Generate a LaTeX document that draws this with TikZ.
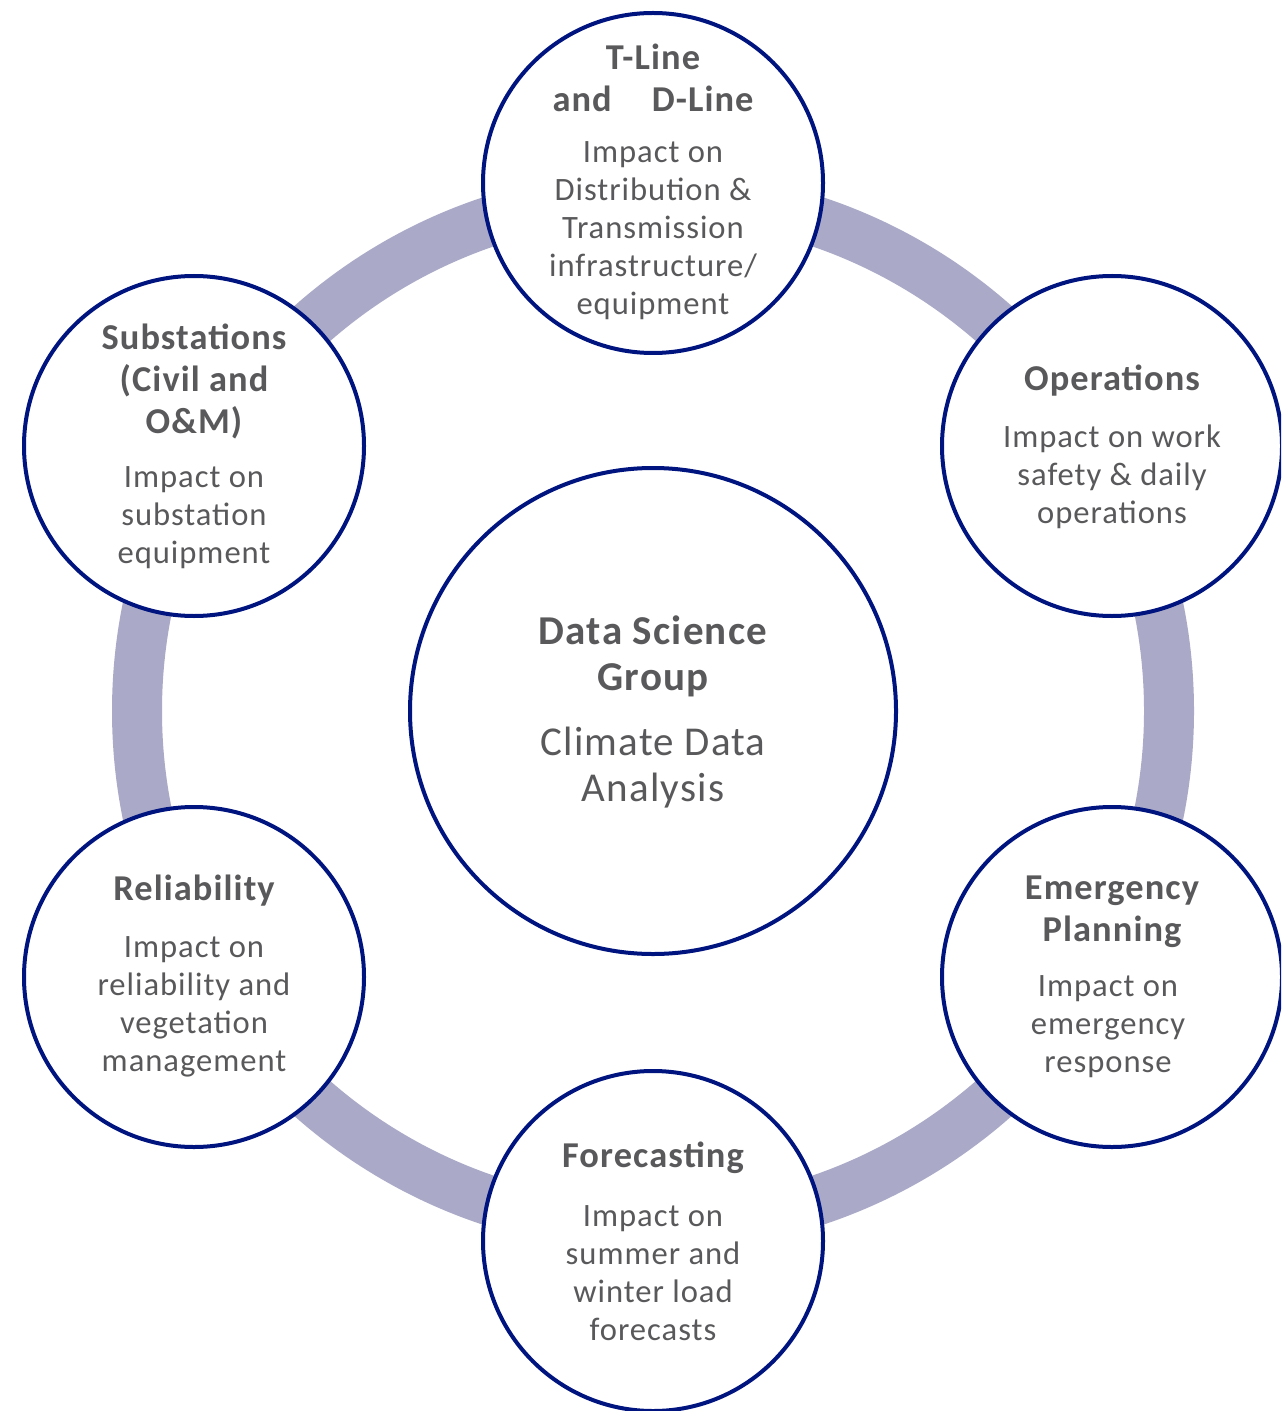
\documentclass[tikz,border=0pt]{standalone}
\usepackage{fontspec}
\setmainfont{Carlito}[LetterSpace=3]
\definecolor{ringc}{RGB}{170,170,200}
\definecolor{navy}{RGB}{0,20,128}
\definecolor{txt}{RGB}{89,89,91}
\begin{document}
\begin{tikzpicture}[x=0.5pt,y=-0.5pt,
  sat/.style={circle,draw=navy,line width=2pt,fill=white,minimum size=340pt/2,inner sep=0pt},
  hub/.style={circle,draw=navy,line width=2pt,fill=white,minimum size=486pt/2,inner sep=0pt},
  ttl/.style={align=center,text=txt,font=\fontsize{18.2}{21}\selectfont\bfseries,inner sep=0pt},
  bdy/.style={align=center,text=txt,font=\fontsize{16.3}{19}\selectfont,inner sep=0pt},
  hubttl/.style={align=center,text=txt,font=\fontsize{20.5}{23}\selectfont\bfseries,inner sep=0pt},
  hubbdy/.style={align=center,text=txt,font=\fontsize{20.5}{23}\selectfont,inner sep=0pt}]
\path[use as bounding box] (0,0) rectangle (1281,1411);
\clip (0,0) rectangle (1281,1411);
\fill[white] (0,0) rectangle (1281,1411);
\coordinate (c) at (653,711);
\draw[ringc,line width=25pt] (c) circle[radius=258pt];
% hub
\node[hub] (hub) at (c) {};
\node[hubttl] (hubT) at (653,656) {Data Science\\Group};
\node[hubbdy] (hubB) at (653,768) {Climate Data\\Analysis};
% satellites
\node[sat] (top) at (653,183) {};
\node[ttl] (topT) at (653,78) {T-Line\\and\hspace{20pt}D-Line};
\node[bdy] (topB) at (653,231) {Impact on\\Distribution \&\\Transmission\\infrastructure/\\equipment};
\node[sat] (ops) at (1112,446) {};
\node[ttl] (opsT) at (1112,381) {Operations};
\node[bdy] (opsB) at (1112,477) {Impact on work\\safety \& daily\\operations};
\node[sat] (emg) at (1112,977) {};
\node[ttl] (emgT) at (1112,912) {Emergency\\Planning};
\node[bdy] (emgB) at (1108,1027) {Impact on\\emergency\\response};
\node[sat] (fc) at (653,1241) {};
\node[ttl] (fcT) at (653,1158) {Forecasting};
\node[bdy] (fcB) at (653,1273) {Impact on\\summer and\\winter load\\forecasts};
\node[sat] (rel) at (194,977) {};
\node[ttl] (relT) at (194,891) {Reliability};
\node[bdy] (relB) at (194,1007) {Impact on\\reliability and\\vegetation\\management};
\node[sat] (sub) at (194,446) {};
\node[ttl] (subT) at (194,381) {Substations\\(Civil and\\O\&M)};
\node[bdy] (subB) at (194,518) {Impact on\\substation\\equipment};
\end{tikzpicture}
\end{document}
